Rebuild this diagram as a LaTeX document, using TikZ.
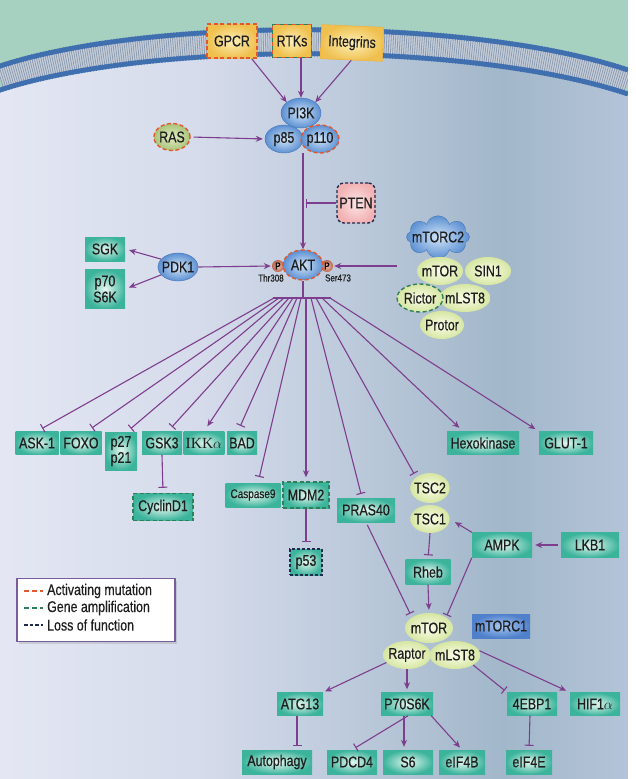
\documentclass[tikz,border=0pt]{standalone}
\usepackage{fontspec}
\setmainfont{Liberation Sans}[FakeStretch=0.8,FakeBold=0.5]
\newfontfamily\ikkfont{Liberation Serif}
\usetikzlibrary{arrows.meta,shapes.geometric,shapes.symbols,shadows}

\newcommand{\pathfont}{\fontsize{15.5}{16}\selectfont}
\newcommand{\smallfont}{\fontsize{12.5}{13}\selectfont}
\newcommand{\sitefont}{\fontsize{10}{10}\selectfont}

\definecolor{outside}{HTML}{A6D0BF}
\definecolor{cellA}{HTML}{E4E7F3}
\definecolor{cellB}{HTML}{D5DBEB}
\definecolor{cellC}{HTML}{BCCADB}
\definecolor{cellD}{HTML}{A2B7CA}
\definecolor{cellE}{HTML}{B4C4D8}
\definecolor{lipidhead}{HTML}{3F6FAE}
\definecolor{lipidtail}{HTML}{C6CFDB}
\definecolor{lipidstripe}{HTML}{8C9BB0}
\definecolor{tealedge}{HTML}{3CB49C}
\definecolor{tealcore}{HTML}{E6F7F0}
\definecolor{bluecore}{HTML}{D2E5F8}
\definecolor{blueedge}{HTML}{5C90D2}
\definecolor{blueline}{HTML}{4677B6}
\definecolor{limecore}{HTML}{FBFDEA}
\definecolor{limeedge}{HTML}{D6E6A2}
\definecolor{goldcore}{HTML}{FDF0B8}
\definecolor{goldedge}{HTML}{EFC04E}
\definecolor{ptencore}{HTML}{FCE6E6}
\definecolor{ptenedge}{HTML}{F2B2B4}
\definecolor{rascore}{HTML}{E2ECC4}
\definecolor{rasedge}{HTML}{A9C47A}
\definecolor{pcore}{HTML}{EDC0AE}
\definecolor{pedge}{HTML}{B9654E}
\definecolor{torccore}{HTML}{A9C8F0}
\definecolor{torcedge}{HTML}{4F80CC}
\definecolor{mutred}{HTML}{E4572E}
\definecolor{ampgreen}{HTML}{2F7F5A}
\definecolor{lossnavy}{HTML}{202A4E}
\definecolor{pathway}{HTML}{7E3E8E}
\definecolor{legendline}{HTML}{7A5C99}
\definecolor{inktext}{HTML}{1E1E1E}

\pgfdeclarehorizontalshading{cellshade}{100bp}{color(0bp)=(cellA); color(25bp)=(cellA); color(41bp)=(cellB); color(53bp)=(cellC); color(65bp)=(cellD); color(75bp)=(cellE); color(100bp)=(cellE)}

\begin{document}
\begin{tikzpicture}[x=1pt,y=-1pt,
  gene/.style={rectangle, inner color=tealcore, outer color=tealedge, minimum height=23pt, inner xsep=2pt, inner ysep=1pt, font=\pathfont, text=inktext},
  kinase/.style={ellipse, inner color=bluecore, outer color=blueedge, draw=blueline, line width=0.4pt, inner xsep=-2pt, inner ysep=-1pt, font=\pathfont, text=inktext},
  subunit/.style={ellipse, inner color=limecore, outer color=limeedge, inner xsep=-2pt, inner ysep=-1pt, minimum height=28pt, font=\pathfont, text=inktext},
  receptor/.style={rectangle, inner color=goldcore, outer color=goldedge, inner sep=1pt, font=\pathfont, text=inktext},
  actmut/.style={draw=mutred, dash pattern=on 4pt off 2.5pt, line width=1.4pt},
  amplif/.style={draw=ampgreen, dash pattern=on 4pt off 2.5pt, line width=1.4pt},
  lossfn/.style={draw=lossnavy, dash pattern=on 3pt off 2pt, line width=1.4pt},
  act/.style={draw=pathway, line width=1.1pt, -{Stealth[length=7pt,width=6pt]}},
  inh/.style={draw=pathway, line width=1.1pt, -{Bar[width=9pt,line width=1.1pt]}},
  fan/.style={draw=pathway, line width=1.1pt}]
\useasboundingbox (0,0) rectangle (635,779);

% outside, cell and membrane
\fill[outside] (0,0) rectangle (628,779);
\shade[shading=cellshade] (0,90) .. controls (150,41) and (470,41) .. (628,94) -- (628,779) -- (0,779) -- cycle;
\draw[lipidtail, line width=24pt] (0,78) .. controls (150,29) and (470,29) .. (628,82);
\draw[lipidstripe, line width=20pt, dash pattern=on 0.8pt off 1.4pt] (0,78) .. controls (150,29) and (470,29) .. (628,82);
\draw[lipidhead, line width=5.5pt, line cap=round, dash pattern=on 0pt off 3pt] (0,66) .. controls (150,17) and (470,17) .. (628,70);
\draw[lipidhead, line width=5.5pt, line cap=round, dash pattern=on 0pt off 3pt] (0,90) .. controls (150,41) and (470,41) .. (628,94);
\fill[white] (628,0) rectangle (635,779);

% receptors and PI3K
\node[receptor, actmut, minimum width=50pt, minimum height=34pt] (gpcr) at (232,41) {GPCR};
\node[receptor, draw=mutred, dash pattern=on 4pt off 4pt, line width=1.4pt,
  postaction={draw=ampgreen, dash pattern=on 4pt off 4pt, dash phase=4pt, line width=1.4pt},
  minimum width=39pt, minimum height=33pt] (rtk) at (292,41) {RTKs};
\node[receptor, draw=goldedge!80!orange, line width=0.6pt, rotate=-2.5, minimum width=62pt, minimum height=34pt] (integrin) at (352,43) {Integrins};

\node[kinase, minimum width=40pt, minimum height=30pt] (pi3k) at (301,113) {PI3K};
\node[kinase, minimum width=38pt, minimum height=28pt] (p85) at (284,139) {p85};
\node[kinase, actmut, minimum width=38pt, minimum height=28pt] (p110) at (320,139) {p110};
\node[ellipse, inner color=rascore, outer color=rasedge, actmut, inner sep=0pt, minimum width=34pt, minimum height=27pt, font=\pathfont, text=inktext] (ras) at (172,137) {RAS};
\node[rectangle, rounded corners=7pt, inner color=ptencore, outer color=ptenedge, lossfn, inner sep=0pt, minimum width=38pt, minimum height=40pt, font=\pathfont, text=inktext] (pten) at (356,203) {PTEN};
\coordinate (stem) at (303,153);

\draw[act] ([xshift=-6pt]gpcr.south east) -- (pi3k.north west);
\draw[act] (pi3k.north |- rtk.south) -- (pi3k.north);
\draw[act] (integrin.south) -- (pi3k.north east);
\draw[act, shorten <=3pt, shorten >=2pt] (ras.east) -- (p85.west);

% AKT and its upstream kinases
\node[circle, inner color=pcore, outer color=pedge, inner sep=0pt, minimum size=12pt, font=\sitefont] (pthr) at (278,266) {P};
\node[circle, inner color=pcore, outer color=pedge, inner sep=0pt, minimum size=12pt, font=\sitefont] (pser) at (327,266) {P};
\node[kinase, actmut, minimum width=40pt, minimum height=30pt] (akt) at (303,265) {AKT};
\node[font=\sitefont, text=inktext, inner sep=0pt] (thr) at (271,278) {Thr308};
\node[font=\sitefont, text=inktext, inner sep=0pt] (ser) at (338,278) {Ser473};

\node[kinase, minimum width=40pt, minimum height=28pt] (pdk1) at (178,267) {PDK1};
\node[gene, minimum width=40pt, minimum height=24pt] (sgk) at (105,249) {SGK};
\node[gene, minimum width=40pt, minimum height=39pt, align=center] (p70) at (105,289) {p70\\S6K};

\node[cloud, cloud puffs=8, aspect=2.2, inner xsep=-5pt, inner ysep=-5pt, inner color=bluecore, outer color=blueedge, draw=blueline, line width=0.4pt, font=\pathfont, text=inktext] (mtorc2) at (438,237) {mTORC2};
\node[subunit, minimum width=44pt] (protor) at (442,325) {Protor};
\node[subunit, minimum width=46pt] (mlstB) at (465,298) {mLST8};
\node[subunit, minimum width=46pt] (sin1) at (488,271) {SIN1};
\node[subunit, minimum width=46pt] (mtorB) at (440,271) {mTOR};
\node[subunit, amplif, minimum width=46pt] (rictor) at (420,298) {Rictor};

\draw[act] (stem) -- (akt.north);
\draw[inh] (pten.west) -- ([xshift=3pt]stem |- pten.west);
\draw[act, shorten >=1pt] (pdk1.east) -- (pthr.west);
\draw[act, shorten >=4pt] (pdk1.155) -- (sgk.east);
\draw[act, shorten >=4pt] (pdk1.205) -- (p70.east);
\draw[act, shorten <=20pt, shorten >=1pt] (pser.east -| mtorB.west) -- (pser.east);

% AKT targets
\node[gene, minimum width=43pt] (ask) at (37,443) {ASK-1};
\node[gene, minimum width=41pt] (foxo) at (81,443) {FOXO};
\node[gene, minimum width=32pt, minimum height=38pt, align=center] (p27) at (121,451) {p27\\p21};
\node[gene, minimum width=40pt] (gsk) at (162,443) {GSK3};
\node[gene, minimum width=38pt] (ikk) at (204,443) {{\ikkfont IKK}$\alpha$};
\node[gene, minimum width=30pt] (bad) at (242,443) {BAD};
\node[gene, minimum width=72pt] (hexo) at (483,443) {Hexokinase};
\node[gene, minimum width=54pt] (glut) at (566,443) {GLUT-1};
\node[gene, font=\smallfont, minimum width=55pt, minimum height=24pt] (casp) at (253,495) {Caspase9};
\node[gene, amplif, minimum width=46pt, minimum height=26pt] (mdm) at (306,495) {MDM2};
\node[gene, amplif, minimum width=60pt, minimum height=27pt] (cyc) at (163,507) {CyclinD1};
\node[gene, lossfn, minimum width=32pt, minimum height=26pt] (p53) at (306,562) {p53};
\node[gene, minimum width=58pt, minimum height=24pt] (pras) at (366,510) {PRAS40};
\node[subunit, minimum width=38pt, minimum height=30pt] (tsc2) at (430,488) {TSC2};
\node[subunit, minimum width=38pt, minimum height=28pt] (tsc1) at (430,519) {TSC1};

\coordinate (fanL) at (273,298);
\coordinate (fanR) at (331,298);
\draw[fan] (akt.south) -- (akt.south |- fanL);
\draw[fan] (fanL) -- (fanR);
\coordinate (f1) at (274,298);
\coordinate (f2) at (279,298);
\coordinate (f3) at (284,298);
\coordinate (f4) at (289,298);
\coordinate (f5) at (293,298);
\coordinate (f6) at (297,298);
\coordinate (f7) at (301,298);
\coordinate (f8) at (306,298);
\coordinate (f9) at (311,298);
\coordinate (f10) at (316,298);
\coordinate (f11) at (322,298);
\coordinate (f12) at (330,298);
\draw[inh, shorten >=6pt] (f1) -- (ask.north);
\draw[inh, shorten >=6pt] (f2) -- ([xshift=6pt]foxo.north);
\draw[inh, shorten >=5pt] (f3) -- ([xshift=6pt]p27.north);
\draw[inh, shorten >=6pt] (f4) -- ([xshift=6pt]gsk.north);
\draw[act, shorten >=6pt] (f5) -- (ikk.north);
\draw[inh, shorten >=6pt] (f6) -- ([xshift=-4pt]bad.north);
\draw[inh, shorten >=6pt] (f7) -- ([xshift=5pt]casp.north);
\draw[act, shorten >=4pt] (f8) -- (mdm.north);
\draw[inh, shorten >=4pt] (f9) -- ([xshift=-4pt]pras.north);
\draw[inh, shorten >=4pt] (f10) -- (tsc2.north west);
\draw[act, shorten >=5pt] (f11) -- ([xshift=-20pt]hexo.north);
\draw[act, shorten >=4pt] (f12) -- (glut.north west);
\draw[inh, shorten >=5pt] (gsk.south) -- (cyc.north);
\draw[inh, shorten >=6pt] (mdm.south) -- (p53.north);

% mTORC1 branch
\node[gene, minimum width=45pt, minimum height=25pt] (rheb) at (428,572) {Rheb};
\node[gene, minimum width=60pt, minimum height=25pt] (ampk) at (502,545) {AMPK};
\node[gene, minimum width=58pt, minimum height=25pt] (lkb) at (590,545) {LKB1};
\node[rectangle, inner color=torccore, outer color=torcedge, minimum width=58pt, minimum height=24pt, inner sep=1pt, font=\pathfont, text=inktext] (mtorc1) at (501,626) {mTORC1};
\node[subunit, minimum width=48pt, minimum height=30pt] (mtorA) at (429,628) {mTOR};
\node[subunit, minimum width=48pt] (mlstA) at (455,655) {mLST8};
\node[subunit, minimum width=48pt] (raptor) at (407,655) {Raptor};

\draw[inh, shorten >=4pt] (tsc1.south) -- (rheb.north);
\draw[act, shorten >=3pt] (rheb.south) -- (mtorA.north);
\draw[inh, shorten <=3pt, shorten >=4pt] (pras.south) -- (mtorA.north west);
\draw[inh, shorten >=2pt] (ampk.south west) -- (mtorA.north east);
\draw[act, shorten >=6pt] (ampk.north west) -- (tsc1.east);
\draw[act, shorten <=3pt, shorten >=3pt] (lkb.west) -- (ampk.east);

% mTORC1 targets
\node[gene, minimum width=46pt] (atg) at (300,704) {ATG13};
\node[gene, minimum width=52pt] (p70s6k) at (407,704) {P70S6K};
\node[gene, minimum width=50pt] (ebp) at (532,704) {4EBP1};
\node[gene, minimum width=50pt] (hif) at (595,704) {HIF1$\alpha$};
\node[gene, minimum width=70pt, minimum height=24pt] (autoph) at (277,762) {Autophagy};
\node[gene, minimum width=50pt, minimum height=24pt] (pdcd) at (352,762) {PDCD4};
\node[gene, minimum width=50pt, minimum height=24pt] (s6) at (408,762) {S6};
\node[gene, minimum width=46pt, minimum height=24pt] (eif4b) at (462,762) {eIF4B};
\node[gene, minimum width=46pt, minimum height=24pt] (eif4e) at (529,762) {eIF4E};

\draw[act, shorten >=2pt] (raptor.200) -- (atg.north east);
\draw[act, shorten >=3pt] (raptor.south) -- (p70s6k.north);
\draw[inh, shorten >=3pt] (mlstA.south east) -- ([xshift=-25pt]ebp.north);
\draw[act, shorten >=4pt] (mlstA.10) -- (hif.north west);
\draw[inh, shorten >=4pt] ([xshift=-3pt]atg.south) -- ([xshift=20pt]autoph.north);
\draw[inh, shorten >=4pt] ([xshift=-25pt]p70s6k.south east) -- (pdcd.north);
\draw[act, shorten >=3pt] ([xshift=-3pt]p70s6k.south) -- ([xshift=-4pt]s6.north);
\draw[act, shorten >=3pt] ([xshift=-2pt]p70s6k.south east) -- (eif4b.north);
\draw[inh, shorten >=4pt] ([xshift=-2pt]ebp.south) -- (eif4e.north);

% legend
\node[draw=legendline, line width=1.2pt, fill=white, drop shadow={opacity=0.25, shadow xshift=2pt, shadow yshift=-2pt}, minimum width=158pt, minimum height=63pt] (legend) at (96,610) {};
\draw[mutred, line width=1.4pt, dash pattern=on 5pt off 3pt] (24,591) -- (43,591);
\draw[ampgreen, line width=1.4pt, dash pattern=on 5pt off 3pt] (24,608) -- (43,608);
\draw[lossnavy, line width=1.4pt, dash pattern=on 3.5pt off 2pt] (24,625) -- (43,625);
\node[anchor=west, font=\pathfont, text=inktext, inner sep=0pt] (legact) at (47,591) {Activating mutation};
\node[anchor=west, font=\pathfont, text=inktext, inner sep=0pt] (legamp) at (47,608) {Gene amplification};
\node[anchor=west, font=\pathfont, text=inktext, inner sep=0pt] (legloss) at (47,625) {Loss of function};
\end{tikzpicture}
\end{document}
